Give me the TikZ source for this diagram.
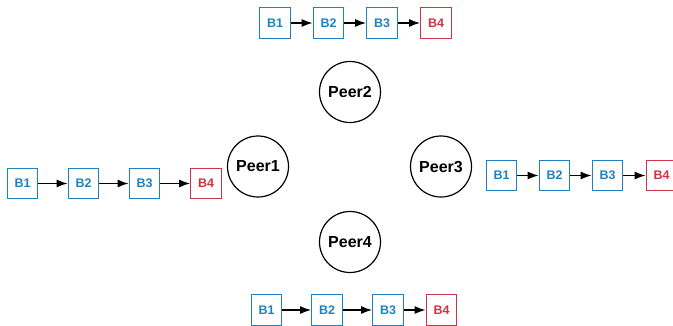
\documentclass[tikz,border=0pt]{standalone}
\usepackage{fontspec}
\setmainfont{Liberation Sans}
\usetikzlibrary{arrows.meta}
\definecolor{blkblue}{HTML}{1F82C0}
\definecolor{blkred}{HTML}{CF3442}
\begin{document}
\begin{tikzpicture}[x=1pt,y=-1pt,
  peer/.style={draw,circle,line width=1.2pt,minimum size=61pt,inner sep=0pt,
    font=\fontsize{16}{16}\selectfont\bfseries},
  blk/.style={draw=blkblue,text=blkblue,line width=1.3pt,minimum size=30.5pt,inner sep=0pt,
    font=\fontsize{12.5}{12.5}\selectfont\bfseries},
  newblk/.style={blk,draw=blkred,text=blkred},
  link/.style={-{Latex[length=11pt,width=8pt]},line width=1.3pt}]
\useasboundingbox (0,0) rectangle (673,325);
% peers
\node[peer] (p1) at (258,166.5) {Peer1};
\node[peer] (p2) at (350,92) {Peer2};
\node[peer] (p3) at (441,166.5) {Peer3};
\node[peer] (p4) at (350,242) {Peer4};
% chain of Peer2 (top)
\node[blk] (t1) at (275,23) {B1};
\node[blk] (t2) at (328.5,23) {B2};
\node[blk] (t3) at (382,23) {B3};
\node[newblk] (t4) at (436,23) {B4};
% chain of Peer1 (left)
\node[blk] (l1) at (22.5,183.5) {B1};
\node[blk] (l2) at (83.5,183.5) {B2};
\node[blk] (l3) at (144.5,183.5) {B3};
\node[newblk] (l4) at (206,183.5) {B4};
% chain of Peer3 (right)
\node[blk] (r1) at (501.5,175.5) {B1};
\node[blk] (r2) at (554.5,175.5) {B2};
\node[blk] (r3) at (607.5,175.5) {B3};
\node[newblk] (r4) at (661.5,175.5) {B4};
% chain of Peer4 (bottom)
\node[blk] (b1) at (266.5,310) {B1};
\node[blk] (b2) at (327,310) {B2};
\node[blk] (b3) at (388,310) {B3};
\node[newblk] (b4) at (441.5,310) {B4};
% links
\foreach \c in {t,l,r,b}{
  \draw[link] (\c1) -- (\c2);
  \draw[link] (\c2) -- (\c3);
  \draw[link] (\c3) -- (\c4);
}
\end{tikzpicture}
\end{document}
